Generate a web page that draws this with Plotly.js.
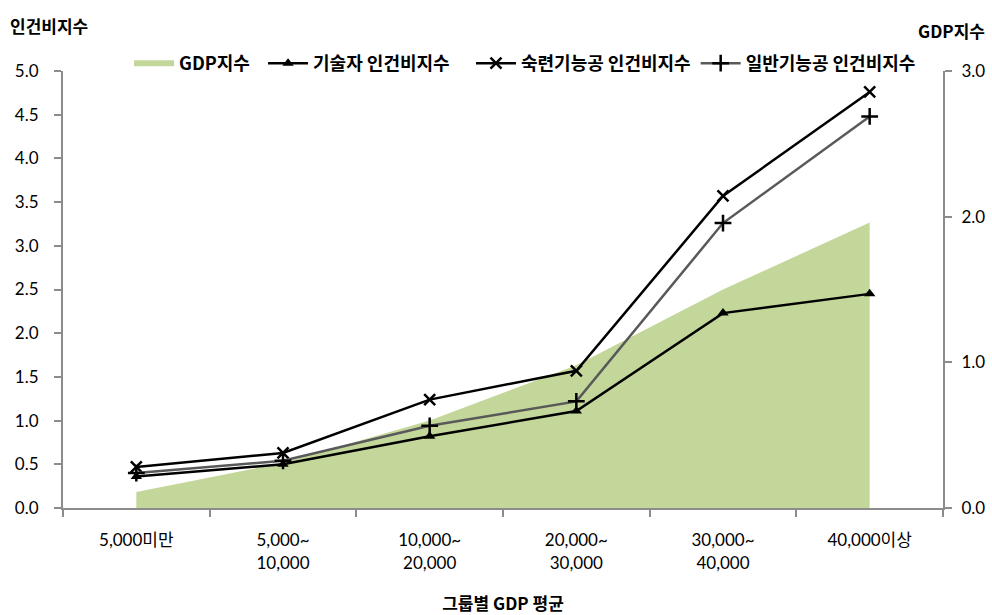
<!DOCTYPE html>
<html>
<head>
<meta charset="utf-8">
<script src="https://cdn.plot.ly/plotly-3.0.1.min.js"></script>
<style>html,body{margin:0;padding:0;background:#fff}#chart{width:992px;height:615px}</style>
</head>
<body>
<div id="chart"></div>
<script>
const categories = ["5,000미만", "5,000~<br>10,000", "10,000~<br>20,000", "20,000~<br>30,000", "30,000~<br>40,000", "40,000이상"];
const gdpIndex = [0.11, 0.31, 0.60, 0.98, 1.50, 1.96];
const engineerIndex = [0.36, 0.50, 0.82, 1.11, 2.23, 2.45];
const skilledIndex = [0.47, 0.63, 1.24, 1.57, 3.57, 4.76];
const generalIndex = [0.40, 0.54, 0.94, 1.22, 3.26, 4.48];
const seriesNames = ["GDP지수", "기술자 인건비지수", "숙련기능공 인건비지수", "일반기능공 인건비지수"];

const FONT = "'Noto Sans CJK KR', 'Noto Sans', sans-serif";
const NUMFONT = "Lato, 'Noto Sans CJK KR', sans-serif";
const AX = "#8c8c8c";
const PAD = "\u00a0";

const traces = [
  {x: categories, y: gdpIndex, name: seriesNames[0] + PAD.repeat(2), type: "scatter", mode: "none",
   fill: "tozeroy", fillcolor: "#c4d79b", yaxis: "y"},
  {x: categories, y: engineerIndex, name: seriesNames[1] + PAD.repeat(4), type: "scatter", mode: "lines+markers",
   line: {color: "#000", width: 2.5},
   marker: {symbol: "triangle-up", size: 10, color: "#000"}, yaxis: "y2"},
  {x: categories, y: skilledIndex, name: seriesNames[2], type: "scatter", mode: "lines+markers",
   line: {color: "#000", width: 2.5},
   marker: {symbol: "x-thin-open", size: 11, color: "#000", line: {width: 2.5, color: "#000"}}, yaxis: "y2"},
  {x: categories, y: generalIndex, name: seriesNames[3], type: "scatter", mode: "lines+markers",
   line: {color: "#595959", width: 2.5},
   marker: {symbol: "cross-thin-open", size: 12, color: "#000", line: {width: 2.5, color: "#000"}}, yaxis: "y2"}
];

const layout = {
  width: 992, height: 615,
  margin: {l: 63, r: 49, t: 71, b: 107},
  paper_bgcolor: "#fff", plot_bgcolor: "#fff",
  font: {family: FONT, size: 16, color: "#000"},
  showlegend: true,
  legend: {orientation: "h", x: 0.075, xanchor: "left", y: 0.975, yanchor: "bottom",
           font: {family: FONT, size: 18, color: "#000", weight: "bold"},
           itemwidth: 40, tracegroupgap: 0, bgcolor: "rgba(0,0,0,0)"},
  xaxis: {
    type: "category", range: [-0.5, 5.5], tickson: "boundaries",
    ticks: "outside", ticklen: 7, tickwidth: 2, tickcolor: AX,
    showline: true, linecolor: AX, linewidth: 2, showgrid: false, zeroline: false,
    ticklabelstandoff: 16,
    tickfont: {family: NUMFONT, size: 17, color: "#000"},
    title: {text: "그룹별 GDP 평균", font: {family: FONT, size: 17, color: "#000", weight: "bold"}, standoff: 28}
  },
  yaxis: {
    side: "right", range: [0, 3], dtick: 1, tickformat: ".1f",
    ticks: "outside", ticklen: 7, tickwidth: 2, tickcolor: AX,
    showline: true, linecolor: AX, linewidth: 2, showgrid: false, zeroline: false,
    ticklabelstandoff: 6,
    tickfont: {family: NUMFONT, size: 17, color: "#000"}
  },
  yaxis2: {
    overlaying: "y", side: "left", range: [0, 5], dtick: 0.5, tickformat: ".1f",
    ticks: "outside", ticklen: 7, tickwidth: 2, tickcolor: AX,
    showline: true, linecolor: AX, linewidth: 2, showgrid: false, zeroline: false,
    ticklabelstandoff: 12,
    tickfont: {family: NUMFONT, size: 17, color: "#000"}
  },
  annotations: [
    {text: "인건비지수", xref: "paper", yref: "paper", x: -0.062, y: 1.105, xanchor: "left", yanchor: "middle",
     showarrow: false, font: {family: FONT, size: 17, color: "#000", weight: "bold"}},
    {text: "GDP지수", xref: "paper", yref: "paper", x: 1.05, y: 1.092, xanchor: "right", yanchor: "middle",
     showarrow: false, font: {family: FONT, size: 17, color: "#000", weight: "bold"}}
  ]
};

Plotly.newPlot("chart", traces, layout, {displayModeBar: false, staticPlot: true});
</script>
</body>
</html>
